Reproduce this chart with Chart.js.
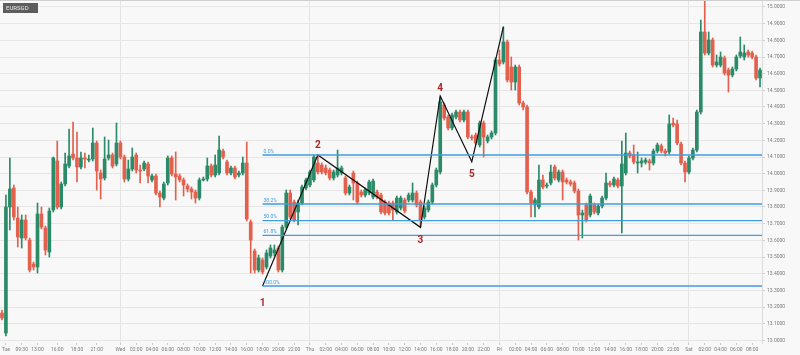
<!DOCTYPE html>
<html>
<head>
<meta charset="utf-8">
<title>EURSGD 30m</title>
<script src="https://cdn.jsdelivr.net/npm/chart.js@4.4.0/dist/chart.umd.min.js"></script>
<style>
  html, body { margin: 0; padding: 0; background: #f8f8f8; }
  #wrap { width: 800px; height: 355px; }
</style>
</head>
<body>
<div id="wrap"><canvas id="chart" width="800" height="355"></canvas></div>
<script>
// 30 minute candles
const opens = [
  13.164, 13.044, 13.800, 13.914, 13.734, 13.614, 13.722, 13.602, 13.458, 13.440,
  13.758, 13.674, 13.530, 13.782, 14.076, 13.800, 13.938, 14.046, 14.118, 14.094,
  14.040, 14.094, 14.082, 14.088, 14.184, 14.004, 13.974, 14.094, 14.112, 14.058,
  14.184, 14.100, 13.968, 14.028, 14.112, 14.022, 14.028, 14.058, 13.962, 13.986,
  13.884, 13.854, 13.944, 14.094, 13.998, 13.986, 13.962, 13.926, 13.908, 13.890,
  13.854, 13.962, 13.968, 14.046, 13.992, 14.004, 14.136, 14.070, 14.004, 14.034,
  13.992, 14.004, 14.064, 13.710, 13.536, 13.422, 13.482, 13.440, 13.506, 13.524,
  13.554, 13.422, 13.680, 13.884, 13.830, 13.770, 13.824, 13.914, 13.932, 13.962,
  14.064, 14.052, 14.034, 14.022, 13.974, 13.992, 14.004, 13.974, 13.884, 14.004,
  13.944, 13.890, 13.872, 13.884, 13.860, 13.890, 13.872, 13.830, 13.824, 13.824,
  13.770, 13.794, 13.842, 13.842, 13.842, 13.884, 13.830, 13.740, 13.782, 13.830,
  13.932, 14.010, 14.412, 14.340, 14.274, 14.340, 14.370, 14.322, 14.370, 14.220,
  14.232, 14.172, 14.304, 14.196, 14.220, 14.244, 14.682, 14.670, 14.790, 14.640,
  14.550, 14.640, 14.424, 14.400, 13.890, 13.812, 13.800, 13.962, 13.926, 13.944,
  14.040, 13.962, 14.010, 13.962, 13.950, 13.944, 13.896, 13.752, 13.812, 13.752,
  13.812, 13.764, 13.806, 13.854, 13.944, 13.932, 13.962, 13.926, 14.004, 14.124,
  14.112, 14.064, 14.064, 14.070, 14.076, 14.064, 14.136, 14.166, 14.136, 14.130,
  14.304, 14.298, 14.178, 14.064, 14.010, 14.094, 14.142, 14.370, 14.850, 14.724,
  14.802, 14.652, 14.652, 14.694, 14.622, 14.592, 14.628, 14.706, 14.700, 14.730,
  14.724, 14.700, 14.574
];
const highs = [
  13.182, 13.872, 14.094, 13.932, 13.800, 13.752, 13.752, 13.614, 13.470, 13.824,
  13.800, 13.686, 13.794, 14.100, 14.196, 13.950, 14.124, 14.268, 14.310, 14.250,
  14.130, 14.124, 14.112, 14.274, 14.196, 14.022, 14.220, 14.202, 14.124, 14.304,
  14.196, 14.112, 14.082, 14.154, 14.124, 14.052, 14.076, 14.070, 13.998, 13.998,
  13.896, 13.950, 14.106, 14.106, 14.130, 13.998, 13.974, 13.938, 13.920, 13.902,
  13.974, 13.980, 14.094, 14.058, 14.112, 14.226, 14.148, 14.082, 14.046, 14.046,
  14.016, 14.100, 14.190, 13.722, 13.548, 13.512, 13.494, 13.542, 13.572, 13.572,
  13.566, 13.692, 13.902, 13.902, 13.842, 13.842, 13.932, 13.974, 14.022, 14.112,
  14.112, 14.064, 14.052, 14.034, 14.022, 14.142, 14.046, 13.986, 13.932, 14.016,
  13.956, 13.902, 13.914, 13.962, 13.968, 13.902, 13.884, 13.842, 13.836, 13.836,
  13.866, 13.866, 13.854, 13.884, 13.944, 13.896, 13.842, 13.806, 13.842, 13.944,
  14.034, 14.460, 14.424, 14.352, 14.364, 14.382, 14.382, 14.382, 14.382, 14.232,
  14.244, 14.316, 14.316, 14.232, 14.256, 14.694, 14.742, 14.880, 14.802, 14.700,
  14.652, 14.652, 14.436, 14.412, 13.902, 13.854, 14.052, 13.992, 13.944, 14.052,
  14.052, 14.022, 14.022, 13.974, 13.962, 13.956, 13.908, 13.782, 13.824, 13.878,
  13.824, 13.818, 13.866, 14.004, 13.956, 13.980, 13.974, 14.196, 14.244, 14.136,
  14.172, 14.130, 14.094, 14.094, 14.088, 14.148, 14.184, 14.178, 14.148, 14.352,
  14.334, 14.322, 14.190, 14.076, 14.106, 14.154, 14.382, 14.922, 15.042, 14.850,
  14.814, 14.712, 14.730, 14.706, 14.634, 14.640, 14.712, 14.820, 14.772, 14.742,
  14.736, 14.712, 14.634
];
const lows = [
  13.122, 13.026, 13.662, 13.722, 13.560, 13.554, 13.602, 13.410, 13.422, 13.404,
  13.668, 13.512, 13.500, 13.770, 13.788, 13.788, 13.926, 14.034, 14.082, 13.950,
  14.028, 14.034, 14.070, 14.076, 13.902, 13.848, 13.962, 14.082, 14.034, 14.046,
  14.088, 13.950, 13.956, 14.016, 14.004, 13.944, 14.016, 13.944, 13.950, 13.872,
  13.800, 13.842, 13.932, 13.986, 13.842, 13.950, 13.866, 13.890, 13.848, 13.824,
  13.842, 13.956, 13.956, 13.980, 13.980, 13.992, 14.088, 13.992, 13.992, 13.968,
  13.980, 13.992, 13.716, 13.404, 13.404, 13.410, 13.398, 13.428, 13.494, 13.506,
  13.410, 13.410, 13.668, 13.728, 13.710, 13.692, 13.812, 13.902, 13.920, 13.950,
  13.998, 13.998, 13.992, 13.962, 13.962, 13.980, 13.992, 13.872, 13.872, 13.842,
  13.818, 13.860, 13.860, 13.872, 13.848, 13.848, 13.758, 13.752, 13.752, 13.722,
  13.758, 13.782, 13.764, 13.830, 13.830, 13.800, 13.680, 13.728, 13.770, 13.818,
  13.920, 13.998, 14.322, 14.262, 14.262, 14.328, 14.310, 14.310, 14.208, 14.202,
  14.172, 14.160, 14.100, 14.184, 14.208, 14.232, 14.646, 14.658, 14.550, 14.502,
  14.502, 14.412, 14.382, 13.878, 13.740, 13.740, 13.788, 13.908, 13.914, 13.932,
  13.962, 13.950, 13.842, 13.938, 13.926, 13.884, 13.602, 13.614, 13.710, 13.740,
  13.758, 13.752, 13.794, 13.842, 13.920, 13.920, 13.914, 13.644, 13.992, 14.094,
  14.058, 14.004, 14.040, 14.058, 14.022, 14.052, 14.124, 14.124, 14.106, 14.118,
  14.280, 14.172, 14.052, 13.950, 13.998, 14.082, 14.130, 14.358, 14.712, 14.712,
  14.640, 14.640, 14.640, 14.592, 14.490, 14.580, 14.616, 14.694, 14.682, 14.700,
  14.688, 14.562, 14.520
];
const closes = [
  13.134, 13.800, 13.908, 13.740, 13.620, 13.722, 13.614, 13.422, 13.440, 13.758,
  13.680, 13.542, 13.776, 14.094, 13.800, 13.938, 14.058, 14.106, 14.094, 14.040,
  14.094, 14.088, 14.088, 14.184, 14.016, 13.968, 14.088, 14.112, 14.046, 14.184,
  14.100, 13.968, 14.028, 14.100, 14.022, 14.016, 14.064, 13.986, 13.986, 13.884,
  13.860, 13.938, 14.094, 13.998, 13.980, 13.962, 13.932, 13.908, 13.890, 13.854,
  13.962, 13.968, 14.046, 13.992, 14.052, 14.142, 14.100, 14.004, 14.034, 13.980,
  14.004, 14.064, 13.728, 13.602, 13.422, 13.494, 13.410, 13.524, 13.554, 13.542,
  13.422, 13.680, 13.884, 13.740, 13.722, 13.824, 13.920, 13.962, 14.010, 14.100,
  14.010, 14.010, 14.004, 13.974, 14.010, 14.034, 14.034, 13.884, 13.920, 13.944,
  13.830, 13.872, 13.902, 13.950, 13.956, 13.860, 13.770, 13.764, 13.764, 13.782,
  13.854, 13.854, 13.776, 13.872, 13.884, 13.812, 13.722, 13.794, 13.830, 13.932,
  14.022, 14.430, 14.334, 14.274, 14.352, 14.370, 14.322, 14.370, 14.220, 14.214,
  14.184, 14.304, 14.220, 14.220, 14.244, 14.682, 14.658, 14.790, 14.562, 14.550,
  14.640, 14.424, 14.400, 13.890, 13.824, 13.842, 13.962, 13.920, 13.932, 14.010,
  13.974, 14.010, 13.950, 13.950, 13.938, 13.896, 13.752, 13.764, 13.722, 13.866,
  13.770, 13.806, 13.854, 13.944, 13.932, 13.968, 13.926, 14.058, 14.124, 14.106,
  14.070, 14.070, 14.076, 14.082, 14.064, 14.136, 14.172, 14.136, 14.124, 14.298,
  14.292, 14.184, 14.064, 14.010, 14.094, 14.142, 14.370, 14.850, 14.724, 14.802,
  14.652, 14.670, 14.700, 14.604, 14.592, 14.628, 14.700, 14.730, 14.724, 14.712,
  14.700, 14.574, 14.622
];

// x axis labels and the candles they sit on
const tickIdx = [1, 5, 9, 14, 19, 24,
  30, 34, 38, 42, 46, 50, 54, 58, 62, 66, 70, 74,
  78, 82, 86, 90, 94, 98, 102, 106, 110, 114, 118, 122,
  126, 130, 134, 138, 142, 146, 150, 154, 158, 162, 166, 170,
  174, 178, 182, 186, 190];
const tickText = ['Tue', '09:30', '13:00', '16:00', '18:30', '21:00',
  'Wed', '02:00', '04:00', '06:00', '08:00', '10:00', '12:00', '14:00', '16:00', '18:00', '20:00', '22:00',
  'Thu', '02:00', '04:00', '06:00', '08:00', '10:00', '12:00', '14:00', '16:00', '18:00', '20:00', '22:00',
  'Fri', '02:00', '04:00', '06:00', '08:00', '10:00', '12:00', '14:00', '16:00', '18:00', '20:00', '22:00',
  'Sat', '02:00', '04:00', '06:00', '08:00'];
const daySepIdx = [30, 78, 126, 174];

const yTickValues = [13.0, 13.1, 13.2, 13.3, 13.4, 13.5, 13.6, 13.7, 13.8, 13.9, 14.0,
  14.1, 14.2, 14.3, 14.4, 14.5, 14.6, 14.7, 14.8, 14.9, 15.0];

// Elliott wave drawing
const waveIdx = [66, 80, 106, 111, 119, 127];
const waveVals = [13.326, 14.112, 13.678, 14.466, 14.072, 14.882];
const waveText = ['1', '2', '3', '4', '5'];

// Fibonacci retracement of wave 1-2
const fibStartIdx = 66;
const fibLevels = [14.112, 13.818, 13.718, 13.630, 13.326];
const fibText = ['0.0%', '38.2%', '50.0%', '61.8%', '100.0%'];

const UP = '#2b8a67';
const DOWN = '#e2604c';
const FIB = '#3f9de0';

const labels = opens.map((_, i) => String(i));
const bodies = opens.map((o, i) => [o, closes[i]]);
const wicks = lows.map((l, i) => [l, highs[i]]);
const candleColors = opens.map((o, i) => closes[i] >= o ? UP : DOWN);
const waveData = labels.map(() => null);
waveIdx.forEach((idx, k) => { waveData[idx] = waveVals[k]; });

const tickMap = {};
tickIdx.forEach((idx, k) => { tickMap[idx] = tickText[k]; });

Chart.defaults.font.family = 'Roboto, "Open Sans", sans-serif';

const overlay = {
    id: 'overlay',
    afterDatasetsDraw(chart) {
        const { ctx, chartArea, scales } = chart;
        const x = scales.x, y = scales.y;
        ctx.save();

        // fib levels
        const fx = x.getPixelForValue(fibStartIdx);
        fibLevels.forEach((lv, k) => {
            const py = y.getPixelForValue(lv);
            ctx.strokeStyle = FIB;
            ctx.lineWidth = 1.3;
            ctx.beginPath();
            ctx.moveTo(fx, py);
            ctx.lineTo(chartArea.right, py);
            ctx.stroke();
            ctx.fillStyle = FIB;
            ctx.font = '5px Roboto';
            ctx.textAlign = 'left';
            ctx.textBaseline = 'bottom';
            ctx.fillText(fibText[k], fx + 1, py - 1);
        });

        // wave numbers
        const dy = [17, -10, 13, -8, 13];
        ctx.fillStyle = '#a8262a';
        ctx.font = 'bold 10px Roboto';
        ctx.textAlign = 'center';
        ctx.textBaseline = 'middle';
        waveText.forEach((t, k) => {
            ctx.fillText(t, x.getPixelForValue(waveIdx[k]), y.getPixelForValue(waveVals[k]) + dy[k]);
        });
        ctx.restore();
    },
    afterDraw(chart) {
        const { ctx, width } = chart;
        ctx.save();
        // top border
        ctx.fillStyle = '#cfcfcf';
        ctx.fillRect(0, 0, width, 1);
        // symbol badge
        ctx.fillStyle = '#5d5d5d';
        ctx.fillRect(3, 3, 35, 10);
        ctx.fillStyle = '#e8e8e8';
        ctx.font = '6px Roboto';
        ctx.textAlign = 'left';
        ctx.textBaseline = 'middle';
        ctx.fillText('EURSGD', 6, 8.5);
        ctx.restore();
    }
};

new Chart(document.getElementById('chart'), {
    type: 'bar',
    data: {
        labels: labels,
        datasets: [
            {
                type: 'line',
                data: waveData,
                spanGaps: true,
                borderColor: '#111',
                borderWidth: 1.2,
                pointRadius: 0,
                tension: 0,
                order: 0
            },
            {
                data: bodies,
                backgroundColor: candleColors,
                borderWidth: 0,
                barThickness: 3,
                minBarLength: 1,
                grouped: false,
                order: 1
            },
            {
                data: wicks,
                backgroundColor: candleColors,
                borderWidth: 0,
                barThickness: 1,
                grouped: false,
                order: 2
            }
        ]
    },
    options: {
        responsive: false,
        animation: false,
        layout: { padding: 0 },
        plugins: {
            legend: { display: false },
            tooltip: { enabled: false }
        },
        scales: {
            x: {
                offset: true,
                grid: {
                    offset: false,
                    color: ctx => daySepIdx.includes(ctx.index) ? '#e3e3e3' : 'rgba(0,0,0,0)',
                    tickColor: ctx => tickMap[ctx.index] !== undefined ? '#cccccc' : 'rgba(0,0,0,0)',
                    tickLength: 2
                },
                border: { display: false },
                ticks: {
                    autoSkip: false,
                    maxRotation: 0,
                    minRotation: 0,
                    padding: 2,
                    color: '#7a7a7a',
                    font: { size: 5 },
                    callback: (v, i) => tickMap[i] !== undefined ? tickMap[i] : ''
                },
                afterFit: s => { s.height = 12; s.paddingLeft = 0; s.paddingRight = 0; }
            },
            y: {
                position: 'right',
                min: 12.984,
                max: 15.042,
                grid: { color: '#e6e6e6', tickLength: 3, tickColor: '#cfcfcf' },
                border: { display: true, color: '#dcdcdc' },
                ticks: {
                    padding: 2,
                    color: '#7a7a7a',
                    font: { size: 5 },
                    callback: v => Number(v).toFixed(4)
                },
                afterBuildTicks: s => { s.ticks = yTickValues.map(v => ({ value: v })); },
                afterFit: s => { s.width = 38; s.paddingTop = 0; s.paddingBottom = 0; }
            }
        }
    },
    plugins: [overlay]
});
</script>
</body>
</html>
